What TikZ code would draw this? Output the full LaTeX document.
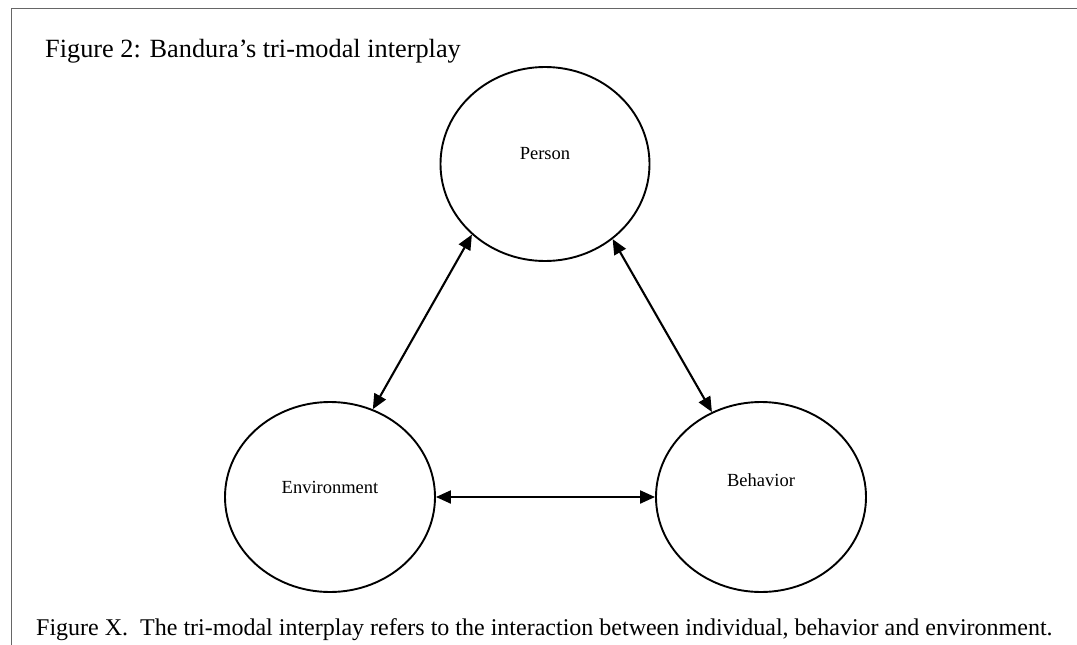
\documentclass[tikz,border=0pt]{standalone}
\usepackage{fontspec}
\setmainfont{Liberation Serif}
\usetikzlibrary{shapes.geometric,arrows.meta}
\begin{document}
\begin{tikzpicture}[x=1pt,y=-1pt,
  bubble/.style={draw, ellipse, line width=1.9pt, minimum width=210pt, minimum height=190pt, inner sep=0pt},
  lbl/.style={font=\fontsize{18.5}{20}\selectfont, inner sep=0pt},
  link/.style={line width=2.1pt, {Triangle[length=15pt,width=13pt]}-{Triangle[length=15pt,width=13pt]}},
  frame/.style={draw=black!60, line width=1pt}]
\useasboundingbox (0,0) rectangle (1077,645);
\draw[frame] (1077,8) -- (11,8) -- (11,645);
\node[anchor=base west, font=\fontsize{26.3}{30}\selectfont, inner sep=0pt] (title) at (45,57) {Figure 2: Bandura’s tri-modal interplay};
\node[bubble, minimum width=209pt, minimum height=194pt] (P) at (545,164) {};
\node[bubble] (E) at (330,497) {};
\node[bubble] (B) at (761,497) {};
\node[lbl] (Pl) at (545,153.5) {Person};
\node[lbl] (El) at (330,487) {Environment};
\node[lbl] (Bl) at (761,480) {Behavior};
\draw[link] (P.224) -- (E.64.5);
\draw[link] (P.312) -- (B.120);
\draw[link] (E.0) -- (B.180);
\node[anchor=base west, font=\fontsize{24}{28}\selectfont, inner sep=0pt] (cap) at (36,635) {Figure X.\ \ The tri-modal interplay refers to the interaction between individual, behavior and environment.};
\end{tikzpicture}
\end{document}
